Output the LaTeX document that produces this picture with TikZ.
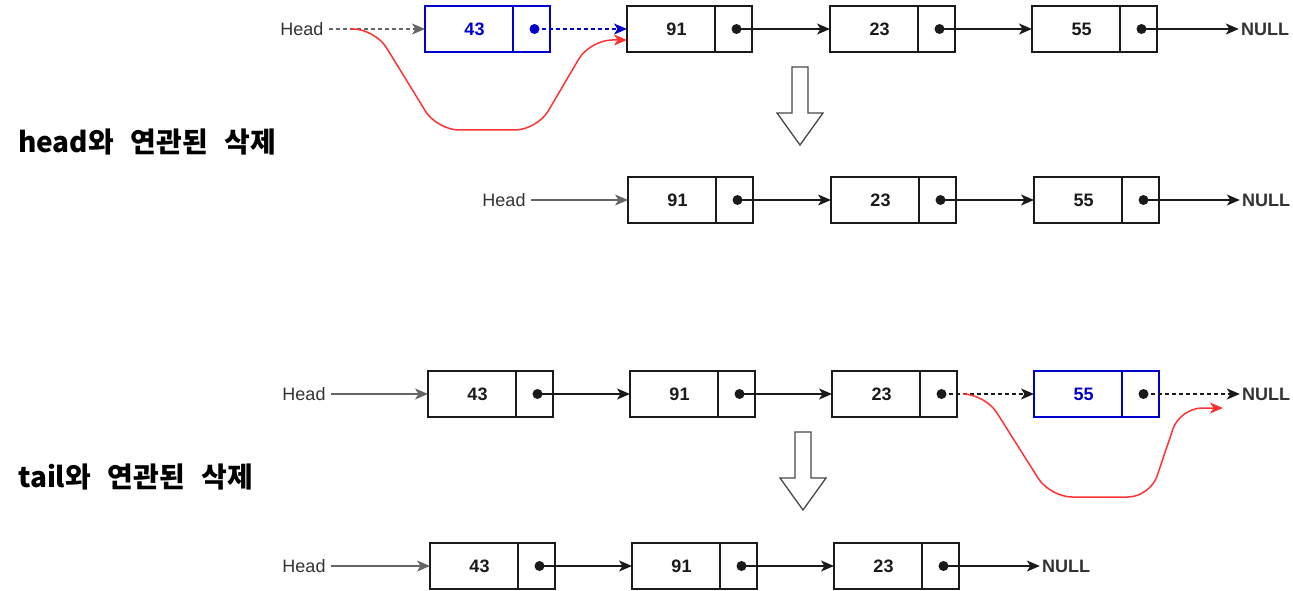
\documentclass[tikz,border=0pt]{standalone}
\usepackage{fontspec}
\setmainfont{Liberation Sans}
\newfontfamily\kofont{Noto Sans CJK KR}[WordSpace=2.6]
\usetikzlibrary{arrows.meta}
\definecolor{boxline}{HTML}{1A1A1A}
\definecolor{selblue}{HTML}{0000CC}
\definecolor{cutred}{HTML}{FF3333}
\definecolor{headgray}{HTML}{666666}
\definecolor{lblgray}{HTML}{333333}
\begin{document}
\begin{tikzpicture}[x=1pt, y=-1pt, >={Stealth[length=13pt,width=11pt,inset=3.5pt]},
    val/.style={draw=boxline, line width=1.3pt, minimum width=88pt, minimum height=46pt,
      inner sep=0pt, outer sep=0pt, anchor=west, text=boxline,
      execute at begin node=\hspace*{11pt},
      font=\fontsize{18}{20}\selectfont\bfseries},
    ptr/.style={val, minimum width=37pt, execute at begin node={}},
    sel/.style={draw=selblue, text=selblue},
    lbl/.style={inner sep=2pt, text=lblgray, font=\fontsize{18}{20}\selectfont},
    nul/.style={lbl, font=\fontsize{18}{20}\selectfont\bfseries},
    title/.style={inner sep=0pt, anchor=west, font=\fontsize{28}{30}\selectfont\kofont\bfseries},
    link/.style={line width=1.4pt, draw=boxline, ->},
    dlink/.style={link, dash pattern=on 4pt off 3pt},
    hlink/.style={link, draw=headgray, shorten <=3pt},
    cut/.style={line width=1.5pt, draw=cutred, ->, rounded corners=22pt}]
  \useasboundingbox (0,0) rectangle (1293,591);

  \node[lbl] (h1) at (302,29) {Head};
  \node[val, sel] (a1) at (425,29) {43};
  \node[ptr, sel] (a1p) at (a1.east) {};
  \node[val] (b1) at (627,29) {91};
  \node[ptr] (b1p) at (b1.east) {};
  \node[val] (c1) at (830,29) {23};
  \node[ptr] (c1p) at (c1.east) {};
  \node[val] (d1) at (1032,29) {55};
  \node[ptr] (d1p) at (d1.east) {};
  \node[nul] (n1) at (1265,29) {NULL};
  \foreach \p in {a1p,b1p,c1p,d1p} \coordinate (\p d) at ([xshift=3pt]\p.center);
  \fill[selblue] (a1pd) circle (5pt);
  \foreach \p in {b1pd,c1pd,d1pd} \fill[boxline] (\p) circle (5pt);
  \draw[dlink, draw=headgray, shorten <=3pt] (h1) -- (a1);
  \draw[dlink, draw=selblue] (a1pd) -- (b1);
  \draw[link] (b1pd) -- (c1);
  \draw[link] (c1pd) -- (d1);
  \draw[link] (d1pd) -- (n1);
  \coordinate (r1) at (350,29);
  \draw[cut] (r1) -- (375,29) -- (437,130) -- (537,130) -- (590,40) -- ([yshift=-11pt]b1.west);

  \draw[line width=1.3pt, draw=boxline!80, fill=white]
    (792,67) -- (808,67) -- (808,113) -- (823,113) -- (800,145) -- (777,113) -- (792,113) -- cycle;
  \node[title] (t1) at (18,142) {head와 연관된 삭제};

  \node[lbl] (h2) at (504,200) {Head};
  \node[val] (b2) at (628,200) {91};
  \node[ptr] (b2p) at (b2.east) {};
  \node[val] (c2) at (831,200) {23};
  \node[ptr] (c2p) at (c2.east) {};
  \node[val] (d2) at (1034,200) {55};
  \node[ptr] (d2p) at (d2.east) {};
  \node[nul] (n2) at (1266,200) {NULL};
  \foreach \p in {b2p,c2p,d2p} \coordinate (\p d) at ([xshift=3pt]\p.center);
  \foreach \p in {b2pd,c2pd,d2pd} \fill[boxline] (\p) circle (5pt);
  \draw[hlink] (h2) -- (b2);
  \draw[link] (b2pd) -- (c2);
  \draw[link] (c2pd) -- (d2);
  \draw[link] (d2pd) -- (n2);

  \node[lbl] (h3) at (304,394) {Head};
  \node[val] (a3) at (428,394) {43};
  \node[ptr] (a3p) at (a3.east) {};
  \node[val] (b3) at (630,394) {91};
  \node[ptr] (b3p) at (b3.east) {};
  \node[val] (c3) at (832,394) {23};
  \node[ptr] (c3p) at (c3.east) {};
  \node[val, sel] (d3) at (1034,394) {55};
  \node[ptr, sel] (d3p) at (d3.east) {};
  \node[nul] (n3) at (1266,394) {NULL};
  \foreach \p in {a3p,b3p,c3p,d3p} \coordinate (\p d) at ([xshift=3pt]\p.center);
  \foreach \p in {a3pd,b3pd,c3pd,d3pd} \fill[boxline] (\p) circle (5pt);
  \draw[hlink] (h3) -- (a3);
  \draw[link] (a3pd) -- (b3);
  \draw[link] (b3pd) -- (c3);
  \draw[dlink] (c3pd) -- (d3);
  \draw[dlink] (d3pd) -- (n3);
  \coordinate (r3) at (963,394);
  \coordinate (r3e) at (1223,408);
  \draw[cut] (r3) -- (985,394) -- (1050,497) -- (1150,497) -- (1180,408) -- (r3e);

  \draw[line width=1.3pt, draw=boxline!80, fill=white]
    (795,432) -- (811,432) -- (811,478) -- (826,478) -- (803,510) -- (780,478) -- (795,478) -- cycle;
  \node[title] (t2) at (18,477) {tail와 연관된 삭제};

  \node[lbl] (h4) at (304,566) {Head};
  \node[val] (a4) at (430,566) {43};
  \node[ptr] (a4p) at (a4.east) {};
  \node[val] (b4) at (632,566) {91};
  \node[ptr] (b4p) at (b4.east) {};
  \node[val] (c4) at (834,566) {23};
  \node[ptr] (c4p) at (c4.east) {};
  \node[nul] (n4) at (1066,566) {NULL};
  \foreach \p in {a4p,b4p,c4p} \coordinate (\p d) at ([xshift=3pt]\p.center);
  \foreach \p in {a4pd,b4pd,c4pd} \fill[boxline] (\p) circle (5pt);
  \draw[hlink] (h4) -- (a4);
  \draw[link] (a4pd) -- (b4);
  \draw[link] (b4pd) -- (c4);
  \draw[link] (c4pd) -- (n4);
\end{tikzpicture}
\end{document}
